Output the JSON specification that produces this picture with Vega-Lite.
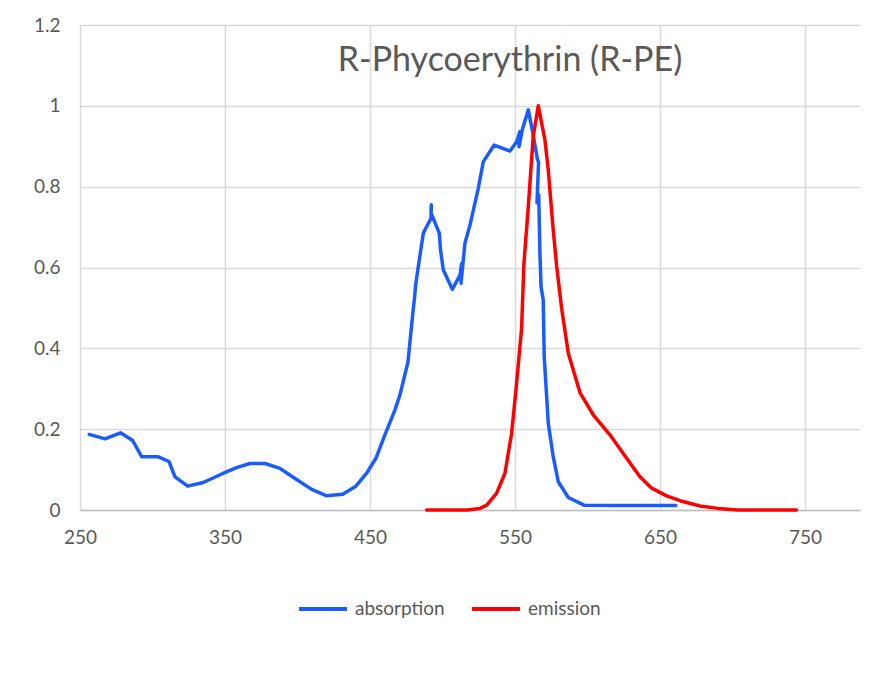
{
  "$schema": "https://vega.github.io/schema/vega-lite/v6.json",
  "width": 780,
  "height": 485,
  "autosize": {"type": "none"},
  "padding": {"left": 80, "top": 25, "right": 24, "bottom": 173},
  "background": "white",
  "title": {"text": "R-Phycoerythrin (R-PE)", "font": "Lato", "fontSize": 34, "fontWeight": "normal", "color": "#595959", "anchor": "middle", "dx": 40, "dy": 41, "offset": -38, "baseline": "middle"},
  "data": {"values": [
    {"series": "absorption", "i": 1, "wl": 256.4, "v": 0.187},
    {"series": "absorption", "i": 2, "wl": 267.2, "v": 0.176},
    {"series": "absorption", "i": 3, "wl": 278, "v": 0.191},
    {"series": "absorption", "i": 4, "wl": 286.3, "v": 0.172},
    {"series": "absorption", "i": 5, "wl": 292.5, "v": 0.132},
    {"series": "absorption", "i": 6, "wl": 303.6, "v": 0.132},
    {"series": "absorption", "i": 7, "wl": 311.4, "v": 0.12},
    {"series": "absorption", "i": 8, "wl": 315.5, "v": 0.082},
    {"series": "absorption", "i": 9, "wl": 324.3, "v": 0.059},
    {"series": "absorption", "i": 10, "wl": 335, "v": 0.068},
    {"series": "absorption", "i": 11, "wl": 348.9, "v": 0.091},
    {"series": "absorption", "i": 12, "wl": 358, "v": 0.105},
    {"series": "absorption", "i": 13, "wl": 367.2, "v": 0.115},
    {"series": "absorption", "i": 14, "wl": 377.6, "v": 0.115},
    {"series": "absorption", "i": 15, "wl": 387.9, "v": 0.103},
    {"series": "absorption", "i": 16, "wl": 398.3, "v": 0.078},
    {"series": "absorption", "i": 17, "wl": 409.8, "v": 0.051},
    {"series": "absorption", "i": 18, "wl": 420.1, "v": 0.035},
    {"series": "absorption", "i": 19, "wl": 431.2, "v": 0.039},
    {"series": "absorption", "i": 20, "wl": 440.3, "v": 0.059},
    {"series": "absorption", "i": 21, "wl": 447.7, "v": 0.091},
    {"series": "absorption", "i": 22, "wl": 454.1, "v": 0.128},
    {"series": "absorption", "i": 23, "wl": 460.3, "v": 0.186},
    {"series": "absorption", "i": 24, "wl": 467.2, "v": 0.247},
    {"series": "absorption", "i": 25, "wl": 470.7, "v": 0.285},
    {"series": "absorption", "i": 26, "wl": 476.2, "v": 0.366},
    {"series": "absorption", "i": 27, "wl": 479.9, "v": 0.499},
    {"series": "absorption", "i": 28, "wl": 480.6, "v": 0.52},
    {"series": "absorption", "i": 29, "wl": 481.6, "v": 0.56},
    {"series": "absorption", "i": 30, "wl": 481.2, "v": 0.545},
    {"series": "absorption", "i": 31, "wl": 482.0, "v": 0.57},
    {"series": "absorption", "i": 32, "wl": 486.8, "v": 0.685},
    {"series": "absorption", "i": 33, "wl": 492.1, "v": 0.722},
    {"series": "absorption", "i": 34, "wl": 492.3, "v": 0.755},
    {"series": "absorption", "i": 35, "wl": 492.1, "v": 0.735},
    {"series": "absorption", "i": 36, "wl": 497.8, "v": 0.685},
    {"series": "absorption", "i": 37, "wl": 498.7, "v": 0.643},
    {"series": "absorption", "i": 38, "wl": 500.6, "v": 0.594},
    {"series": "absorption", "i": 39, "wl": 506.8, "v": 0.546},
    {"series": "absorption", "i": 40, "wl": 512.1, "v": 0.581},
    {"series": "absorption", "i": 41, "wl": 513.2, "v": 0.61},
    {"series": "absorption", "i": 42, "wl": 512.8, "v": 0.561},
    {"series": "absorption", "i": 43, "wl": 515.5, "v": 0.66},
    {"series": "absorption", "i": 44, "wl": 519, "v": 0.705},
    {"series": "absorption", "i": 45, "wl": 524.7, "v": 0.796},
    {"series": "absorption", "i": 46, "wl": 528.2, "v": 0.862},
    {"series": "absorption", "i": 47, "wl": 535.7, "v": 0.903},
    {"series": "absorption", "i": 48, "wl": 546.6, "v": 0.888},
    {"series": "absorption", "i": 49, "wl": 551.2, "v": 0.911},
    {"series": "absorption", "i": 50, "wl": 553.4, "v": 0.936},
    {"series": "absorption", "i": 51, "wl": 552.8, "v": 0.899},
    {"series": "absorption", "i": 52, "wl": 555.3, "v": 0.944},
    {"series": "absorption", "i": 53, "wl": 559.2, "v": 0.99},
    {"series": "absorption", "i": 54, "wl": 562.6, "v": 0.928},
    {"series": "absorption", "i": 55, "wl": 565.4, "v": 0.87},
    {"series": "absorption", "i": 56, "wl": 566.3, "v": 0.86},
    {"series": "absorption", "i": 57, "wl": 565.2, "v": 0.76},
    {"series": "absorption", "i": 58, "wl": 566.4, "v": 0.78},
    {"series": "absorption", "i": 59, "wl": 567.2, "v": 0.639},
    {"series": "absorption", "i": 60, "wl": 568, "v": 0.552},
    {"series": "absorption", "i": 61, "wl": 569.5, "v": 0.52},
    {"series": "absorption", "i": 62, "wl": 570.2, "v": 0.379},
    {"series": "absorption", "i": 63, "wl": 573, "v": 0.214},
    {"series": "absorption", "i": 64, "wl": 576.4, "v": 0.132},
    {"series": "absorption", "i": 65, "wl": 579.9, "v": 0.07},
    {"series": "absorption", "i": 66, "wl": 586.8, "v": 0.031},
    {"series": "absorption", "i": 67, "wl": 597.6, "v": 0.012},
    {"series": "absorption", "i": 68, "wl": 617.8, "v": 0.011},
    {"series": "absorption", "i": 69, "wl": 661, "v": 0.011},
    {"series": "emission", "i": 1, "wl": 489.1, "v": 0},
    {"series": "emission", "i": 2, "wl": 517.6, "v": 0},
    {"series": "emission", "i": 3, "wl": 525.9, "v": 0.004},
    {"series": "emission", "i": 4, "wl": 530.5, "v": 0.012},
    {"series": "emission", "i": 5, "wl": 537.3, "v": 0.041},
    {"series": "emission", "i": 6, "wl": 543.1, "v": 0.091},
    {"series": "emission", "i": 7, "wl": 547.7, "v": 0.19},
    {"series": "emission", "i": 8, "wl": 550.7, "v": 0.297},
    {"series": "emission", "i": 9, "wl": 554.6, "v": 0.45},
    {"series": "emission", "i": 10, "wl": 556.2, "v": 0.61},
    {"series": "emission", "i": 11, "wl": 559.2, "v": 0.75},
    {"series": "emission", "i": 12, "wl": 562.6, "v": 0.924},
    {"series": "emission", "i": 13, "wl": 566.1, "v": 1.0},
    {"series": "emission", "i": 14, "wl": 570.7, "v": 0.915},
    {"series": "emission", "i": 15, "wl": 573, "v": 0.841},
    {"series": "emission", "i": 16, "wl": 576, "v": 0.709},
    {"series": "emission", "i": 17, "wl": 578.8, "v": 0.602},
    {"series": "emission", "i": 18, "wl": 582.2, "v": 0.499},
    {"series": "emission", "i": 19, "wl": 586.8, "v": 0.388},
    {"series": "emission", "i": 20, "wl": 595, "v": 0.289},
    {"series": "emission", "i": 21, "wl": 604.1, "v": 0.235},
    {"series": "emission", "i": 22, "wl": 615.5, "v": 0.186},
    {"series": "emission", "i": 23, "wl": 624.7, "v": 0.14},
    {"series": "emission", "i": 24, "wl": 636.2, "v": 0.082},
    {"series": "emission", "i": 25, "wl": 644.3, "v": 0.054},
    {"series": "emission", "i": 26, "wl": 654.6, "v": 0.035},
    {"series": "emission", "i": 27, "wl": 663.8, "v": 0.023},
    {"series": "emission", "i": 28, "wl": 677.6, "v": 0.01},
    {"series": "emission", "i": 29, "wl": 690, "v": 0.004},
    {"series": "emission", "i": 30, "wl": 704, "v": 0},
    {"series": "emission", "i": 31, "wl": 744.1, "v": 0}
  ]},
  "mark": {"type": "line", "strokeWidth": 3.5, "strokeJoin": "round", "strokeCap": "round"},
  "encoding": {
    "x": {"field": "wl", "type": "quantitative",
      "scale": {"domain": [250, 788], "nice": false, "zero": false},
      "axis": {"values": [250, 350, 450, 550, 650, 750], "title": null, "grid": true, "gridColor": "#d9d9d9", "gridWidth": 1.5, "ticks": false, "domain": true, "domainColor": "#bfbfbf", "domainWidth": 1.5, "labelFont": "Lato", "labelFontSize": 19, "labelColor": "#595959", "labelPadding": 18, "labelFlush": false}},
    "y": {"field": "v", "type": "quantitative",
      "scale": {"domain": [0, 1.2], "nice": false},
      "axis": {"values": [0, 0.2, 0.4, 0.6, 0.8, 1, 1.2], "format": "~g", "title": null, "grid": true, "gridColor": "#d9d9d9", "gridWidth": 1.5, "ticks": false, "domain": false, "labelFont": "Lato", "labelFontSize": 19, "labelColor": "#595959", "labelPadding": 20}},
    "color": {"field": "series", "type": "nominal",
      "scale": {"domain": ["absorption", "emission"], "range": ["#1a5cff", "#ff0000"]},
      "legend": {"title": null, "orient": "none", "legendX": 217, "legendY": 558, "direction": "horizontal", "symbolType": "stroke", "symbolSize": 2304, "symbolStrokeWidth": 4, "labelFont": "Lato", "labelFontSize": 19, "labelColor": "#595959", "labelOffset": 6, "columnPadding": 19}},
    "order": {"field": "i", "type": "quantitative"}
  },
  "config": {"view": {"stroke": null}}
}
